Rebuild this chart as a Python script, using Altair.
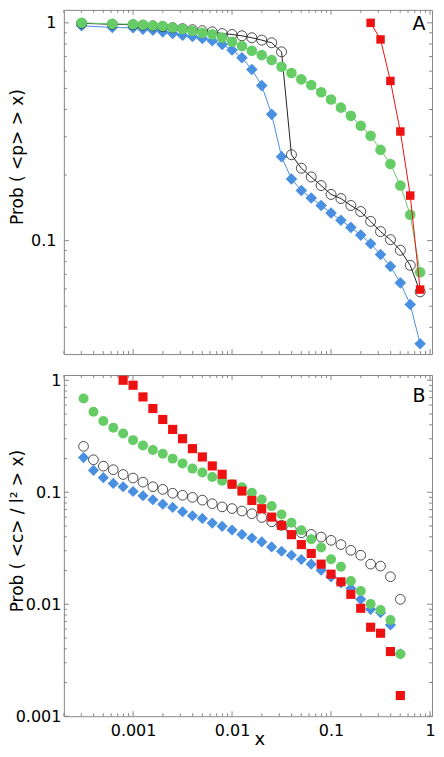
import altair as alt
import pandas as pd

# ---------------- data ----------------
# x positions (panel A and panel B bins)
xa = [0.000302, 0.000617, 0.001, 0.001259, 0.001585, 0.001995, 0.002512, 0.003162,
      0.003981, 0.005012, 0.00631, 0.007943, 0.01, 0.01259, 0.01585, 0.01995,
      0.02512, 0.03162, 0.03981, 0.05012, 0.0631, 0.07943, 0.1, 0.1259,
      0.1585, 0.1995, 0.2512, 0.3162, 0.3981, 0.5012, 0.631, 0.7943]
xb = [0.000316, 0.000398, 0.000501, 0.000631, 0.000794, 0.001, 0.001259, 0.001585,
      0.001995, 0.002512, 0.003162, 0.003981, 0.005012, 0.00631, 0.007943, 0.01,
      0.01259, 0.01585, 0.01995, 0.02512, 0.03162, 0.03981, 0.05012, 0.0631,
      0.07943, 0.1, 0.1259, 0.1585, 0.1995, 0.2512, 0.3162, 0.3981, 0.5012]

# Panel A : Prob(<p> > x)
a_blue = [0.97, 0.952, 0.949, 0.936, 0.926, 0.909, 0.893, 0.878, 0.866, 0.847, 0.827,
          0.796, 0.75, 0.691, 0.611, 0.515, 0.380, 0.243, 0.192, 0.170, 0.157, 0.145,
          0.134, 0.124, 0.115, 0.106, 0.0968, 0.0863, 0.0762, 0.064, 0.0509, 0.0336]
a_green = [1.0, 0.989, 0.986, 0.979, 0.972, 0.966, 0.952, 0.937, 0.92, 0.90, 0.886,
           0.856, 0.818, 0.782, 0.744, 0.711, 0.675, 0.629, 0.588, 0.55, 0.518, 0.48,
           0.445, 0.408, 0.374, 0.337, 0.303, 0.261, 0.225, 0.179, 0.1315, 0.0716]
a_black = [0.995, 0.985, 0.98, 0.975, 0.968, 0.96, 0.95, 0.94, 0.93, 0.92, 0.909,
           0.893, 0.884, 0.872, 0.854, 0.833, 0.810, 0.736, 0.248, 0.215, 0.196, 0.179,
           0.163, 0.156, 0.145, 0.136, 0.1226, 0.110, 0.101, 0.0903, 0.077, 0.0582]
a_red_x = xa[26:]
a_red = [1.0, 0.839, 0.541, 0.317, 0.161, 0.0596]

# Panel B : Prob(<c>/l^2 > x)
b_blue = [0.204, 0.157, 0.135, 0.120, 0.112, 0.1016, 0.093, 0.0857, 0.0783, 0.0732,
          0.067, 0.0617, 0.0584, 0.053, 0.0496, 0.046, 0.042, 0.039, 0.036, 0.0325,
          0.0297, 0.0274, 0.0251, 0.0228, 0.0201, 0.01756, 0.0155, 0.01385, 0.01106,
          0.00901, 0.0084, 0.00653, 0.0036]
b_green = [0.686, 0.523, 0.432, 0.377, 0.335, 0.292, 0.262, 0.238, 0.221, 0.1996,
           0.181, 0.1626, 0.150, 0.137, 0.1265, 0.118, 0.111, 0.0989, 0.0862, 0.0752,
           0.0634, 0.0535, 0.0457, 0.038, 0.0321, 0.0252, 0.0216, 0.0161, 0.0131,
           0.01004, 0.00888, 0.00723, 0.0036]
b_black = [0.257, 0.195, 0.171, 0.159, 0.144, 0.134, 0.123, 0.112, 0.106, 0.098,
           0.094, 0.090, 0.085, 0.079, 0.074, 0.0715, 0.068, 0.0643, 0.0595, 0.0545,
           0.0506, 0.0463, 0.0435, 0.0421, 0.0398, 0.0372, 0.0341, 0.0303, 0.0274,
           0.0228, 0.0219, 0.0176, 0.01106]
b_red_x = xb[4:]
b_red = [1.0, 0.903, 0.710, 0.559, 0.4465, 0.364, 0.3006, 0.245, 0.2066, 0.1718,
         0.1447, 0.118, 0.1025, 0.0845, 0.0713, 0.060, 0.0506, 0.0418, 0.0341, 0.0284,
         0.0228, 0.01855, 0.01585, 0.01225, 0.0092, 0.00623, 0.00551, 0.00378, 0.00153]

# tick positions
x_major = [0.001, 0.01, 0.1, 1]
x_minor = [0.0002, 0.0003, 0.0004, 0.0005, 0.0006, 0.0007, 0.0008, 0.0009,
           0.002, 0.003, 0.004, 0.005, 0.006, 0.007, 0.008, 0.009,
           0.02, 0.03, 0.04, 0.05, 0.06, 0.07, 0.08, 0.09,
           0.2, 0.3, 0.4, 0.5, 0.6, 0.7, 0.8, 0.9]
ya_major = [0.1, 1]
ya_minor = [0.04, 0.05, 0.06, 0.07, 0.08, 0.09, 0.2, 0.3, 0.4, 0.5, 0.6, 0.7, 0.8, 0.9]
yb_major = [0.001, 0.01, 0.1, 1]
yb_minor = [0.002, 0.003, 0.004, 0.005, 0.006, 0.007, 0.008, 0.009,
            0.02, 0.03, 0.04, 0.05, 0.06, 0.07, 0.08, 0.09,
            0.2, 0.3, 0.4, 0.5, 0.6, 0.7, 0.8, 0.9]

panel_labels = ["A", "B"]
title_a = "Prob ( <p> > x)"
title_b = "Prob ( <c> / l² > x)"
title_x = "x"

# ---------------- styling ----------------
BLUE = "#4a90e2"
GREEN = "#66cc66"
RED = "#ee1111"
BLACK = "#222222"
FRAME = "#888888"
FONT = "DejaVu Sans"
W = 369
HA = 345
HB = 342

xscale = alt.Scale(type="log", domain=[0.0002, 1.047], nice=False)
ya_scale = alt.Scale(type="log", domain=[0.03014, 1.147], nice=False)
yb_scale = alt.Scale(type="log", domain=[0.001, 1.114], nice=False)

ya_axis = alt.Axis(values=ya_major, format="~g", title=title_a, ticks=False, tickSize=0,
                   domain=False, grid=False, labelPadding=8, titleX=-46.5, titleY=147,
                   titleAngle=270, titleBaseline="middle", titleAlign="center")
yb_axis = alt.Axis(values=yb_major, format="~g", title=title_b, ticks=False, tickSize=0,
                   domain=False, grid=False, labelPadding=3, titleX=-46.5, titleY=156,
                   titleAngle=270, titleBaseline="middle", titleAlign="center")
xb_axis = alt.Axis(values=x_major, format="~g", title=title_x, ticks=False, tickSize=0,
                   domain=False, grid=False, labelPadding=6, titleFontSize=18,
                   titleX=196, titleY=23, titleBaseline="middle", titleAlign="center")


def panel(series, yscale, yaxis, xaxis, ymaj, ymin, H, label, lx, ly):
    layers = []

    def X(field="x"):
        if xaxis is None:
            return alt.X(f"{field}:Q", scale=xscale, axis=None)
        return alt.X(f"{field}:Q", scale=xscale, axis=xaxis)

    def Y(field="y"):
        return alt.Y(f"{field}:Q", scale=yscale, axis=yaxis)

    # inward ticks on all four sides
    for vals, ln in [(x_major, 5), (x_minor, 3)]:
        d = pd.DataFrame({"v": vals})
        layers.append(alt.Chart(d).mark_rule(color=FRAME, strokeWidth=1).encode(
            x=X("v"), y=alt.value(H), y2=alt.value(H - ln)))
        layers.append(alt.Chart(d).mark_rule(color=FRAME, strokeWidth=1).encode(
            x=X("v"), y=alt.value(0), y2=alt.value(ln)))
    for vals, ln in [(ymaj, 5), (ymin, 3)]:
        d = pd.DataFrame({"v": vals})
        layers.append(alt.Chart(d).mark_rule(color=FRAME, strokeWidth=1).encode(
            y=Y("v"), x=alt.value(0), x2=alt.value(ln)))
        layers.append(alt.Chart(d).mark_rule(color=FRAME, strokeWidth=1).encode(
            y=Y("v"), x=alt.value(W), x2=alt.value(W - ln)))

    for s in series:
        d = pd.DataFrame({"x": s["x"], "y": s["y"]})
        if s.get("line"):
            layers.append(alt.Chart(d).mark_line(color=s["color"], strokeWidth=1).encode(
                x=X(), y=Y()))
        if s["kind"] == "open":
            pt = alt.Chart(d).mark_point(shape="circle", filled=False, stroke=s["color"],
                                         strokeWidth=0.8, size=s["size"], opacity=1)
        else:
            pt = alt.Chart(d).mark_point(shape=s["kind"], filled=True, color=s["color"],
                                         size=s["size"], opacity=1, strokeWidth=0)
        layers.append(pt.encode(x=X(), y=Y()))

    layers.append(alt.Chart(pd.DataFrame({"t": [label]})).mark_text(
        font=FONT, fontSize=19, color="black", align="center", baseline="middle").encode(
        text="t:N", x=alt.value(lx), y=alt.value(ly)))
    return alt.layer(*layers).properties(width=W, height=H)


series_a = [
    {"x": xa, "y": a_blue, "color": BLUE, "kind": "diamond", "size": 135, "line": True},
    {"x": xa, "y": a_black, "color": BLACK, "kind": "open", "size": 100, "line": True},
    {"x": xa, "y": a_green, "color": GREEN, "kind": "circle", "size": 112, "line": True},
    {"x": a_red_x, "y": a_red, "color": RED, "kind": "square", "size": 72, "line": True},
]
series_b = [
    {"x": xb, "y": b_blue, "color": BLUE, "kind": "diamond", "size": 125},
    {"x": xb, "y": b_black, "color": BLACK, "kind": "open", "size": 95},
    {"x": xb, "y": b_green, "color": GREEN, "kind": "circle", "size": 100},
    {"x": b_red_x, "y": b_red, "color": RED, "kind": "square", "size": 84},
]

pa = panel(series_a, ya_scale, ya_axis, None, ya_major, ya_minor, HA, panel_labels[0], 356, 13.7)
pb = panel(series_b, yb_scale, yb_axis, xb_axis, yb_major, yb_minor, HB, panel_labels[1], 356, 21)

chart = alt.vconcat(pa, pb, spacing=21, bounds="flush").properties(
    padding=0, background="white"
).configure_view(stroke=FRAME, strokeWidth=1).configure_axis(
    labelFont=FONT, labelFontSize=16, labelColor="black",
    titleFont=FONT, titleFontSize=17, titleFontWeight="normal", titleColor="black"
)

chart.save("out.html", embed_options={"renderer": "svg", "actions": False})
